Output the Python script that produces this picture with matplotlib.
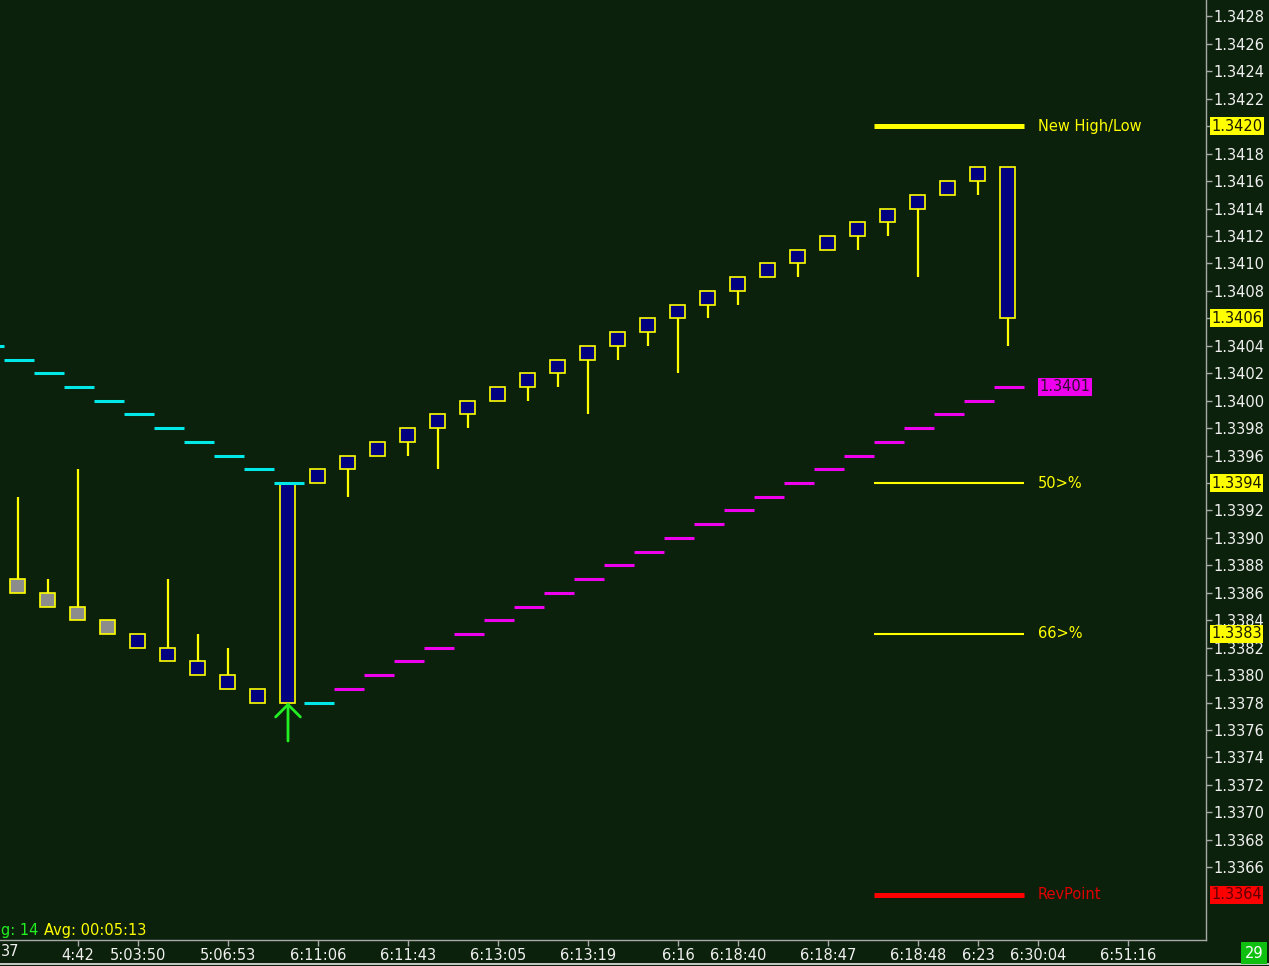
import numpy as np
import matplotlib
matplotlib.use("Agg")
import matplotlib.pyplot as plt
from matplotlib.patches import Rectangle
from matplotlib.lines import Line2D
import matplotlib.transforms as mtransforms

# renko bricks, index 0 = first visible brick
box_lo = [1.3386, 1.3385, 1.3384, 1.3383, 1.3382, 1.3381, 1.3380, 1.3379, 1.3378,
          1.3378,
          1.3394, 1.3395, 1.3396, 1.3397, 1.3398, 1.3399, 1.3400, 1.3401, 1.3402,
          1.3403, 1.3404, 1.3405, 1.3406, 1.3407, 1.3408, 1.3409, 1.3410, 1.3411,
          1.3412, 1.3413, 1.3414, 1.3415, 1.3416,
          1.3406]
box_hi = [1.3387, 1.3386, 1.3385, 1.3384, 1.3383, 1.3382, 1.3381, 1.3380, 1.3379,
          1.3394,
          1.3395, 1.3396, 1.3397, 1.3398, 1.3399, 1.3400, 1.3401, 1.3402, 1.3403,
          1.3404, 1.3405, 1.3406, 1.3407, 1.3408, 1.3409, 1.3410, 1.3411, 1.3412,
          1.3413, 1.3414, 1.3415, 1.3416, 1.3417,
          1.3417]
highs = [1.3393, 1.3387, 1.3395, 1.3384, 1.3383, 1.3387, 1.3383, 1.3382, 1.3379,
         1.3394,
         1.3395, 1.3396, 1.3397, 1.3398, 1.3399, 1.3400, 1.3401, 1.3402, 1.3403,
         1.3404, 1.3405, 1.3406, 1.3407, 1.3408, 1.3409, 1.3410, 1.3411, 1.3412,
         1.3413, 1.3414, 1.3415, 1.3416, 1.3417,
         1.3417]
lows = [1.3386, 1.3385, 1.3384, 1.3383, 1.3382, 1.3381, 1.3380, 1.3379, 1.3378,
        1.3378,
        1.3394, 1.3393, 1.3396, 1.3396, 1.3395, 1.3398, 1.3400, 1.3400, 1.3401,
        1.3399, 1.3403, 1.3404, 1.3402, 1.3406, 1.3407, 1.3409, 1.3409, 1.3411,
        1.3411, 1.3412, 1.3409, 1.3415, 1.3415,
        1.3404]
old_session = 4  # first bricks drawn in gray

# trailing stop line, starts one brick before the first visible one
trail_start = -1
trail_cyan = [1.3404, 1.3403, 1.3402, 1.3401, 1.3400, 1.3399, 1.3398, 1.3397,
              1.3396, 1.3395, 1.3394, 1.3378]
trail_magenta = [1.3379, 1.3380, 1.3381, 1.3382, 1.3383, 1.3384, 1.3385, 1.3386,
                 1.3387, 1.3388, 1.3389, 1.3390, 1.3391, 1.3392, 1.3393, 1.3394,
                 1.3395, 1.3396, 1.3397, 1.3398, 1.3399, 1.3400, 1.3401]

# level lines
level_names = ["New High/Low", "50>%", "66>%", "RevPoint"]
level_values = [1.3420, 1.3394, 1.3383, 1.3364]

# x axis labels ("37" is the visible tail of a label cut by the left edge)
xtick_pos = [2, 4, 7, 10, 13, 16, 19, 22, 24, 27, 30, 32, 34, 37]
xtick_labels = ["4:42", "5:03:50", "5:06:53", "6:11:06", "6:11:43",
                "6:13:05", "6:13:19", "6:16", "6:18:40", "6:18:47", "6:18:48",
                "6:23", "6:30:04", "6:51:16"]
edge_label = "37"
yticks = np.round(np.arange(1.3366, 1.34281, 0.0002), 4)

BG = "#0b210b"
YEL = "#ffff00"
CYAN = "#00e8e8"
MAG = "#ee00ee"
RED = "#ff0000"
LIME = "#22ee22"
TXT = "#f0f0f0"
AXC = "#a8a8a8"
FS = 10.5

plt.rcParams['font.family'] = ['DejaVu Sans']
plt.rcParams['font.size'] = FS

fig = plt.figure(figsize=(12.69, 9.66), dpi=100, facecolor=BG)
ax = fig.add_axes([0, 26 / 966, 1206 / 1269, 940 / 966])
ax.set_facecolor(BG)
ax.set_xlim(-0.6, 39.6)
ax.set_ylim(1.33607, 1.34292)

for s in ["top", "left"]:
    ax.spines[s].set_visible(False)
for s in ["right", "bottom"]:
    ax.spines[s].set_color(AXC)
    ax.spines[s].set_linewidth(1)

n = len(box_lo)
idx = np.arange(n)

# wicks
ax.vlines(idx, lows, highs, color=YEL, lw=1.6, zorder=2)
# bricks
for i in range(n):
    face = "#8c8c8c" if i < old_session else "#000080"
    ax.add_patch(Rectangle((i - 0.25, box_lo[i]), 0.5, box_hi[i] - box_lo[i],
                           facecolor=face, edgecolor=YEL, lw=1.2, zorder=3))

# trailing line
tc = np.arange(trail_start, trail_start + len(trail_cyan))
ax.hlines(trail_cyan, tc - 0.47, tc + 0.53, color=CYAN, lw=2.2, zorder=4)
tm = np.arange(tc[-1] + 1, tc[-1] + 1 + len(trail_magenta))
ax.hlines(trail_magenta, tm - 0.47, tm + 0.53, color=MAG, lw=2.2, zorder=4)

# reversal arrow under the big brick
rev = 9
ax.annotate("", xy=(rev, box_lo[rev]), xytext=(rev, box_lo[rev] - 0.00028),
            arrowprops=dict(arrowstyle="->,head_length=0.85,head_width=0.85",
                            color=LIME, lw=2, shrinkA=0, shrinkB=0), zorder=5)

# level lines and labels
last = n - 1
for name, val in zip(level_names, level_values):
    thick = name in ("New High/Low", "RevPoint")
    col = RED if name == "RevPoint" else YEL
    ax.hlines(val, last - 4.47, last + 0.53, color=col, lw=3.6 if thick else 1.5, zorder=4)
    ax.text(last + 1.0, val, name, color="#e00000" if name == "RevPoint" else YEL,
            va="center", ha="left", fontsize=FS, zorder=6)

# magenta value tag next to trailing line end
ax.text(last + 1.05, trail_magenta[-1], f"{trail_magenta[-1]:.4f}", color="#301030",
        va="center", ha="left", fontsize=FS, zorder=6,
        bbox=dict(boxstyle="square,pad=0.1", fc=MAG, ec="none"))

# y axis on the right
ax.yaxis.tick_right()
highlight = {1.3420: YEL, 1.3406: YEL, 1.3394: YEL, 1.3383: YEL, 1.3364: RED}
ax.set_yticks(yticks)
ax.set_yticklabels(["" if round(v, 4) in highlight else f"{v:.4f}" for v in yticks])
ax.tick_params(axis="y", direction="out", length=4, width=1, color=AXC,
               labelcolor=TXT, labelsize=FS, pad=1.5)
ytrans = mtransforms.blended_transform_factory(ax.transAxes, ax.transData)
for val, col in highlight.items():
    ax.text(1.0 + 5 / 1206, val, f"{val:.4f}", transform=ytrans,
            color="#1a1a00" if col == YEL else "#600000",
            va="center", ha="left", fontsize=FS, zorder=6, clip_on=False,
            bbox=dict(boxstyle="square,pad=0.1", fc=col, ec="none"))

# x axis
ax.set_xticks(xtick_pos)
ax.set_xticklabels(xtick_labels)
ax.tick_params(axis="x", direction="out", length=4, width=1, color=AXC,
               labelcolor=TXT, labelsize=FS, pad=1.5)
ax.text(1 / 1206, -12 / 940, edge_label, transform=ax.transAxes, color=TXT,
        ha="left", va="center", fontsize=FS, clip_on=False)

# info text bottom-left
ax.text(1 / 1206, 10 / 940, "g: 14", transform=ax.transAxes, color=LIME,
        ha="left", va="center", fontsize=FS)
ax.text(44 / 1206, 10 / 940, "Avg: 00:05:13", transform=ax.transAxes, color=YEL,
        ha="left", va="center", fontsize=FS)

# bar counter box bottom-right
fig.text(1254 / 1269, 13 / 966, "29", color="white", ha="center", va="center",
         fontsize=FS, bbox=dict(boxstyle="square,pad=0.22", fc="#10c010", ec="none"))
fig.add_artist(Line2D([0, 1], [2 / 966, 2 / 966], transform=fig.transFigure,
                      color="#e8e8e8", lw=1.2))

fig.savefig("out.png", dpi=100, facecolor=BG)
